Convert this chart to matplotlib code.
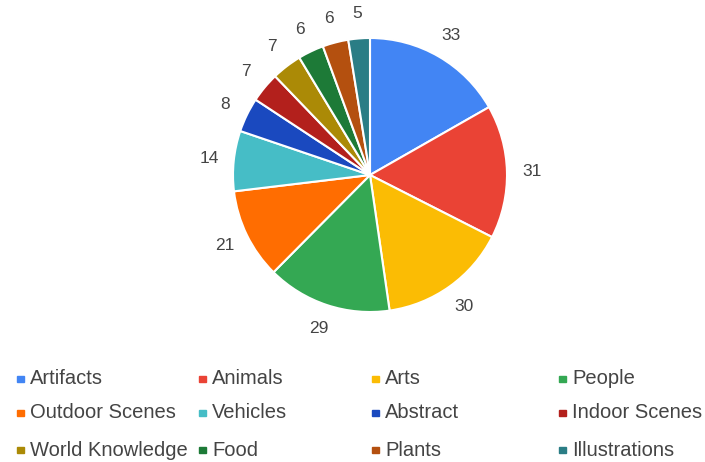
import matplotlib.pyplot as plt

# categories and counts, clockwise from 12 o'clock
categories = ["Artifacts", "Animals", "Arts", "People", "Outdoor Scenes", "Vehicles",
              "Abstract", "Indoor Scenes", "World Knowledge", "Food", "Plants", "Illustrations"]
counts = [33, 31, 30, 29, 21, 14, 8, 7, 7, 6, 6, 5]
colors = ["#4285F4", "#EA4335", "#FBBC04", "#34A853", "#FF6D01", "#46BDC6",
          "#1A49BF", "#B3201C", "#AB8A06", "#1D7A37", "#B4500F", "#2A7D85"]

plt.rcParams['font.family'] = ['Liberation Sans', 'DejaVu Sans']
text_color = "#444444"

fig = plt.figure(figsize=(7.05, 4.62), dpi=100)

# pie centred at (370, 175) px, radius ~137 px
cx, cy, r = 370, 175, 137
ax = fig.add_axes([(cx - r) / 705, (462 - cy - r) / 462, 2 * r / 705, 2 * r / 462])
wedges, texts = ax.pie(counts, labels=[str(c) for c in counts], colors=colors,
                       startangle=90, counterclock=False, labeldistance=1.18,
                       wedgeprops=dict(edgecolor="white", linewidth=1.5),
                       textprops=dict(fontsize=12.5, color=text_color))
for t in texts:
    t.set_ha("center")
ax.set_xlim(-1, 1)
ax.set_ylim(-1, 1)
ax.set_aspect("equal")

# legend, 4 columns x 3 rows, row-major
col_x = [17, 199, 372, 559]
row_y = [379, 413, 450]
for i, (name, col) in enumerate(zip(categories, colors)):
    x = col_x[i % 4]
    y = row_y[i // 4]
    fig.patches.append(plt.Rectangle((x / 705, (462 - y - 3) / 462), 7 / 705, 6 / 462,
                                     transform=fig.transFigure, color=col, figure=fig))
    fig.text((x + 13) / 705, (462 - y) / 462, name, fontsize=14.5, color=text_color,
             ha="left", va="center")

fig.savefig("out.png", dpi=100, facecolor="white")
